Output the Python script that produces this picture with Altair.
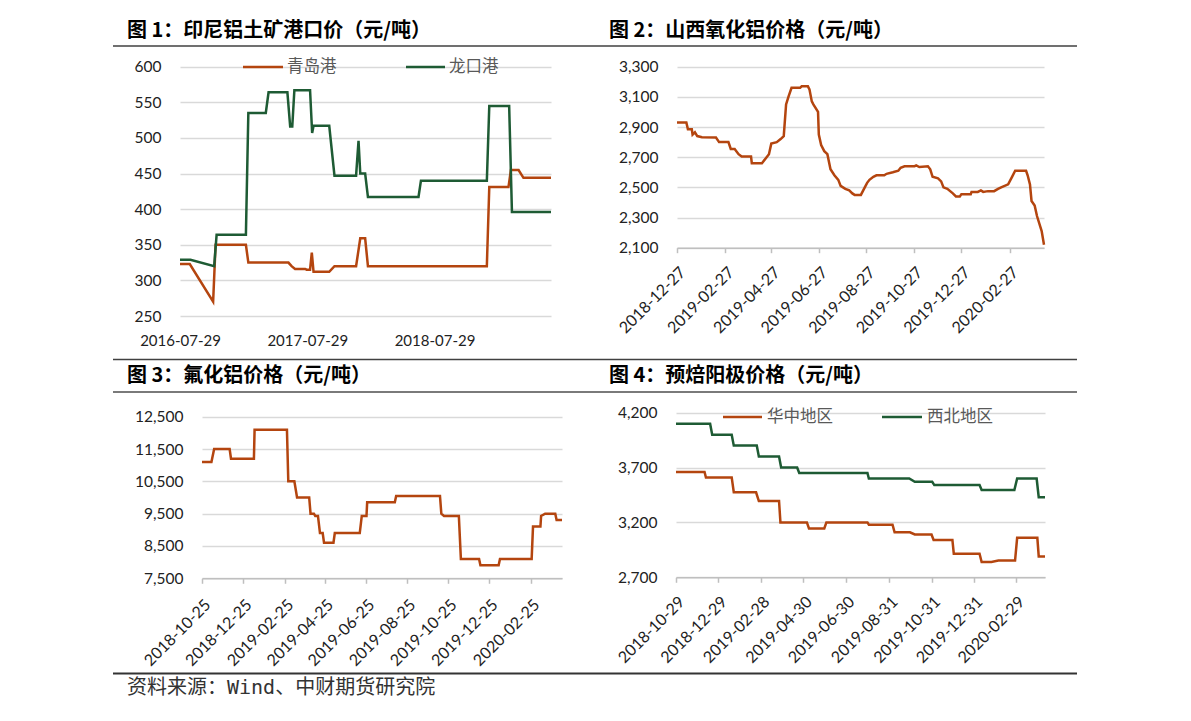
import altair as alt
import pandas as pd

W, H = 1191, 721
ORANGE = "#B4450F"
GREEN = "#1E5B34"
LATIN = "Lato"
CJK = "Noto Sans CJK SC"
LABEL_COLOR = "#222222"
GRID = "#d9d9d9"

# ---------------- data ----------------
# 图1 印尼铝土矿港口价
p1_series = ["青岛港", "龙口港"]
qingdao_dates = ["2016-07-29", "2016-08-26", "2016-11-01", "2016-11-08", "2017-02-03", "2017-02-10",
                 "2017-06-05", "2017-06-14", "2017-06-24", "2017-07-23", "2017-07-27", "2017-08-06",
                 "2017-08-11", "2017-08-16", "2017-09-30", "2017-10-15", "2017-12-16", "2017-12-28",
                 "2018-01-11", "2018-01-19", "2018-12-26", "2019-01-02", "2019-02-26", "2019-03-05",
                 "2019-03-27", "2019-04-10", "2019-06-28"]
qingdao_values = [323, 323, 270, 350, 350, 325, 325, 320, 316, 316, 315, 315, 339, 312, 312, 320,
                  320, 359, 359, 320, 320, 431, 431, 455, 455, 444, 444]
longkou_dates = ["2016-07-29", "2016-08-28", "2016-11-04", "2016-11-11", "2017-02-03", "2017-02-10",
                 "2017-04-01", "2017-04-09", "2017-06-02", "2017-06-10", "2017-06-16", "2017-06-22",
                 "2017-08-06", "2017-08-12", "2017-08-16", "2017-09-30", "2017-10-15", "2017-12-16",
                 "2017-12-23", "2017-12-28", "2018-01-11", "2018-01-19", "2018-06-13", "2018-06-20",
                 "2018-12-26", "2019-01-02", "2019-02-28", "2019-03-08", "2019-06-28"]
longkou_values = [329, 329, 320, 364, 364, 535, 535, 564, 564, 516, 516, 567, 567, 507, 517, 517,
                  447, 447, 496, 450, 450, 417, 417, 440, 440, 545, 545, 396, 396]
p1_xticks = ["2016-07-29", "2017-07-29", "2018-07-29"]
p1_yticks = [250, 300, 350, 400, 450, 500, 550, 600]

# 图2 山西氧化铝价格
p2_dates = ["2018-12-27", "2019-01-08", "2019-01-10", "2019-01-15", "2019-01-16", "2019-01-19",
            "2019-01-22", "2019-01-28", "2019-02-15", "2019-02-19", "2019-03-03", "2019-03-06",
            "2019-03-11", "2019-03-16", "2019-03-20", "2019-04-01", "2019-04-02", "2019-04-15",
            "2019-04-21", "2019-04-24", "2019-04-27", "2019-05-04", "2019-05-09", "2019-05-13",
            "2019-05-16", "2019-05-19", "2019-05-23", "2019-06-03", "2019-06-05", "2019-06-13",
            "2019-06-15", "2019-06-18", "2019-06-20", "2019-06-26", "2019-06-27", "2019-06-30",
            "2019-07-04", "2019-07-08", "2019-07-12", "2019-07-17", "2019-07-22", "2019-07-25",
            "2019-07-31", "2019-08-05", "2019-08-09", "2019-08-12", "2019-08-20", "2019-08-23",
            "2019-08-25", "2019-08-28", "2019-08-31", "2019-09-05", "2019-09-09", "2019-09-19",
            "2019-09-22", "2019-09-30", "2019-10-07", "2019-10-10", "2019-10-15", "2019-10-28",
            "2019-10-30", "2019-11-03", "2019-11-14", "2019-11-17", "2019-11-20", "2019-11-27",
            "2019-12-01", "2019-12-04", "2019-12-09", "2019-12-16", "2019-12-20", "2019-12-25",
            "2019-12-27", "2020-01-08", "2020-01-09", "2020-01-17", "2020-01-21", "2020-01-24",
            "2020-01-30", "2020-02-07", "2020-02-12", "2020-02-16", "2020-02-25", "2020-03-01",
            "2020-03-05", "2020-03-19", "2020-03-21", "2020-03-24", "2020-03-26", "2020-03-30",
            "2020-04-02", "2020-04-08", "2020-04-11"]
p2_values = [2930, 2930, 2885, 2885, 2850, 2865, 2840, 2832, 2830, 2800, 2800, 2755,
             2755, 2720, 2705, 2705, 2660, 2660, 2700, 2720, 2790, 2800, 2820, 2840,
             3050, 3100, 3160, 3160, 3170, 3170, 3150, 3070, 3050, 3000, 2850, 2780,
             2740, 2720, 2620, 2580, 2550, 2510, 2490, 2480, 2460, 2450, 2450, 2480,
             2500, 2530, 2550, 2570, 2580, 2580, 2590, 2600, 2610, 2630, 2640, 2640,
             2645, 2635, 2640, 2620, 2570, 2560, 2540, 2500, 2490, 2460, 2440, 2440,
             2455, 2455, 2470, 2470, 2480, 2470, 2475, 2475, 2490, 2500, 2520, 2570,
             2610, 2610, 2580, 2520, 2410, 2380, 2310, 2210, 2120]
p2_xticks = ["2018-12-27", "2019-02-27", "2019-04-27", "2019-06-27", "2019-08-27",
             "2019-10-27", "2019-12-27", "2020-02-27"]
p2_yticks = [2100, 2300, 2500, 2700, 2900, 3100, 3300]

# 图3 氟化铝价格
p3_dates = ["2018-10-25", "2018-11-08", "2018-11-12", "2018-12-05", "2018-12-07", "2019-01-10",
            "2019-01-11", "2019-02-28", "2019-03-02", "2019-03-11", "2019-03-15", "2019-04-02",
            "2019-04-04", "2019-04-09", "2019-04-11", "2019-04-15", "2019-04-18", "2019-04-22",
            "2019-04-24", "2019-05-08", "2019-05-10", "2019-06-16", "2019-06-19", "2019-06-26",
            "2019-06-27", "2019-08-07", "2019-08-09", "2019-10-13", "2019-10-15", "2019-10-19",
            "2019-11-10", "2019-11-13", "2019-12-10", "2019-12-12", "2020-01-08", "2020-01-10",
            "2020-02-26", "2020-02-28", "2020-03-10", "2020-03-11", "2020-03-17", "2020-04-01",
            "2020-04-03", "2020-04-11"]
p3_values = [11100, 11100, 11500, 11500, 11200, 11200, 12100, 12100, 10500, 10500, 10000, 10000,
             9500, 9500, 9430, 9430, 8900, 8900, 8600, 8600, 8900, 8900, 9430, 9430,
             9850, 9850, 10050, 10050, 9500, 9430, 9430, 8100, 8100, 7900, 7900, 8100,
             8100, 9100, 9100, 9430, 9500, 9500, 9300, 9300]
p3_xticks = ["2018-10-25", "2018-12-25", "2019-02-25", "2019-04-25", "2019-06-25",
             "2019-08-25", "2019-10-25", "2019-12-25", "2020-02-25"]
p3_yticks = [7500, 8500, 9500, 10500, 11500, 12500]

# 图4 预焙阳极价格
p4_series = ["华中地区", "西北地区"]
huazhong_dates = ["2018-10-29", "2018-12-09", "2018-12-11", "2019-01-17", "2019-01-20", "2019-02-21",
                  "2019-02-25", "2019-03-26", "2019-03-28", "2019-05-05", "2019-05-08", "2019-05-30",
                  "2019-06-02", "2019-07-31", "2019-08-02", "2019-09-05", "2019-09-08", "2019-09-30",
                  "2019-10-07", "2019-10-31", "2019-11-03", "2019-11-30", "2019-12-02", "2020-01-08",
                  "2020-01-11", "2020-01-25", "2020-02-04", "2020-02-28", "2020-03-02", "2020-03-31",
                  "2020-04-02", "2020-04-11"]
huazhong_values = [3660, 3660, 3610, 3610, 3475, 3475, 3395, 3395, 3200, 3200, 3145, 3145,
                   3200, 3200, 3180, 3180, 3110, 3110, 3090, 3090, 3040, 3040, 2915, 2915,
                   2840, 2840, 2852, 2852, 3060, 3060, 2890, 2890]
xibei_dates = ["2018-10-29", "2018-12-17", "2018-12-20", "2019-01-17", "2019-01-20", "2019-02-22",
               "2019-02-25", "2019-03-26", "2019-03-29", "2019-04-21", "2019-04-24", "2019-07-31",
               "2019-08-02", "2019-09-29", "2019-10-07", "2019-11-01", "2019-11-04", "2020-01-08",
               "2020-01-11", "2020-02-27", "2020-03-02", "2020-03-30", "2020-04-02", "2020-04-11"]
xibei_values = [4100, 4100, 4000, 4000, 3900, 3900, 3800, 3800, 3700, 3700, 3650, 3650,
                3600, 3600, 3570, 3570, 3540, 3540, 3495, 3495, 3600, 3600, 3430, 3430]
p4_xticks = ["2018-10-29", "2018-12-29", "2019-02-28", "2019-04-30", "2019-06-30",
             "2019-08-31", "2019-10-31", "2019-12-31", "2020-02-29"]
p4_yticks = [2700, 3200, 3700, 4200]

titles = ["图 1：印尼铝土矿港口价（元/吨）", "图 2：山西氧化铝价格（元/吨）",
          "图 3：氟化铝价格（元/吨）", "图 4：预焙阳极价格（元/吨）"]
source_text = "资料来源：Wind、中财期货研究院"


# ---------------- helpers ----------------
def dt(s):
    y, m, d = (int(v) for v in s.split("-"))
    return alt.DateTime(year=y, month=m, date=d, utc=True)


def x_enc(domain, rng, ticks, axis_y, rotated, pad):
    axis = alt.Axis(
        values=[dt(t) for t in ticks],
        labelExpr="utcFormat(datum.value, '%Y-%m-%d')",
        orient="bottom", offset=axis_y - H, grid=False,
        domain=rotated, domainColor="#bfbfbf", domainWidth=1.5,
        ticks=rotated, tickColor="#bfbfbf", tickSize=5, tickWidth=1.5,
        labelAngle=315 if rotated else 0,
        labelAlign="right" if rotated else "center",
        labelBaseline="top", labelPadding=pad,
        labelFont=LATIN, labelFontSize=16 if rotated else 15, labelColor=LABEL_COLOR,
        labelOverlap=False, labelFlush=False, title=None,
    )
    return alt.X("date:T", axis=axis,
                 scale=alt.Scale(type="utc", domain=[dt(domain[0]), dt(domain[1])], range=rng))


def y_enc(domain, rng, ticks, axis_x, fmt):
    axis = alt.Axis(
        values=ticks, format=fmt, orient="left", offset=-axis_x,
        grid=True, gridColor=GRID, gridWidth=1.5, domain=False, ticks=False,
        labelPadding=19, labelFont=LATIN, labelFontSize=15.5, labelColor=LABEL_COLOR,
        labelOverlap=False, title=None,
    )
    return alt.Y("value:Q", axis=axis,
                 scale=alt.Scale(domain=domain, range=rng, zero=False, nice=False))


def long_df(series_names, date_lists, value_lists):
    frames = []
    for name, d, v in zip(series_names, date_lists, value_lists):
        frames.append(pd.DataFrame({"series": name, "date": d, "value": v}))
    return pd.concat(frames, ignore_index=True)


def text_at(txt, x, y, size, weight="normal", color="#000000", font=CJK):
    return alt.Chart(pd.DataFrame({"label": [txt]})).mark_text(
        align="left", baseline="middle", font=font, fontSize=size,
        fontWeight=weight, color=color,
    ).encode(x=alt.value(x), y=alt.value(y), text="label:N")


def hrule(x1, x2, y, color, width):
    return alt.Chart(pd.DataFrame({"k": [0]})).mark_rule(
        color=color, strokeWidth=width
    ).encode(x=alt.value(x1), x2=alt.value(x2), y=alt.value(y))


# ---------------- panels ----------------
df1 = long_df(p1_series, [qingdao_dates, longkou_dates], [qingdao_values, longkou_values])
p1 = alt.Chart(df1).mark_line(strokeWidth=2.5).encode(
    x=x_enc(["2016-07-29", "2019-06-28"], [180, 551], p1_xticks, 316, False, 17),
    y=y_enc([250, 600], [316, 66.7], p1_yticks, 180, "d"),
    color=alt.Color("series:N", legend=None,
                    scale=alt.Scale(domain=p1_series, range=[ORANGE, GREEN])),
    detail="series:N",
)

df2 = pd.DataFrame({"date": p2_dates, "value": p2_values})
p2 = alt.Chart(df2).mark_line(strokeWidth=2.5, color=ORANGE).encode(
    x=x_enc(["2018-12-27", "2020-04-11"], [677, 1044], p2_xticks, 247.7, True, 11),
    y=y_enc([2100, 3300], [247.7, 66.7], p2_yticks, 677, ",.0f"),
)

df3 = pd.DataFrame({"date": p3_dates, "value": p3_values})
p3 = alt.Chart(df3).mark_line(strokeWidth=2.5, color=ORANGE).encode(
    x=x_enc(["2018-10-25", "2020-04-11"], [202, 562], p3_xticks, 578.3, True, 13),
    y=y_enc([7500, 12500], [578.3, 416.7], p3_yticks, 202, ",.0f"),
)

df4 = long_df(p4_series, [huazhong_dates, xibei_dates], [huazhong_values, xibei_values])
p4 = alt.Chart(df4).mark_line(strokeWidth=2.5).encode(
    x=x_enc(["2018-10-29", "2020-04-11"], [676, 1045], p4_xticks, 577.3, True, 11),
    y=y_enc([2700, 4200], [577.3, 412.7], p4_yticks, 676, ",.0f"),
    color=alt.Color("series:N", legend=None,
                    scale=alt.Scale(domain=p4_series, range=[ORANGE, GREEN])),
    detail="series:N",
)

# ---------------- decorations ----------------
deco = [
    hrule(113, 1077, 46, "#404040", 1.6),
    hrule(113, 1077, 359.5, "#404040", 1.6),
    hrule(113, 1077, 392, "#7a7a7a", 2),
    hrule(113, 1077, 673.5, "#333333", 1.8),
    text_at(titles[0], 127, 31, 20, "bold"),
    text_at(titles[1], 609, 31, 20, "bold"),
    text_at(titles[2], 127, 376, 20, "bold"),
    text_at(titles[3], 609, 376, 20, "bold"),
    text_at(source_text, 127, 688, 20, "normal", "#333333", "DejaVu Sans Mono, Noto Sans CJK SC"),
    # legends
    hrule(243, 283, 67, ORANGE, 2.5),
    text_at(p1_series[0], 287, 67, 16.5, "normal", "#595959"),
    hrule(406, 445, 67, GREEN, 2.5),
    text_at(p1_series[1], 449, 67, 16.5, "normal", "#595959"),
    hrule(723, 762, 417, ORANGE, 2.5),
    text_at(p4_series[0], 767, 417, 16.5, "normal", "#595959"),
    hrule(882, 922, 417, GREEN, 2.5),
    text_at(p4_series[1], 927, 417, 16.5, "normal", "#595959"),
]

chart = alt.layer(p1, p2, p3, p4, *deco).resolve_scale(
    x="independent", y="independent", color="independent"
).properties(
    width=W, height=H, padding=0,
    autosize=alt.AutoSizeParams(type="none"),
    background="white",
).configure_view(stroke=None)

chart.save("out.html", embed_options={"renderer": "svg", "actions": False})
